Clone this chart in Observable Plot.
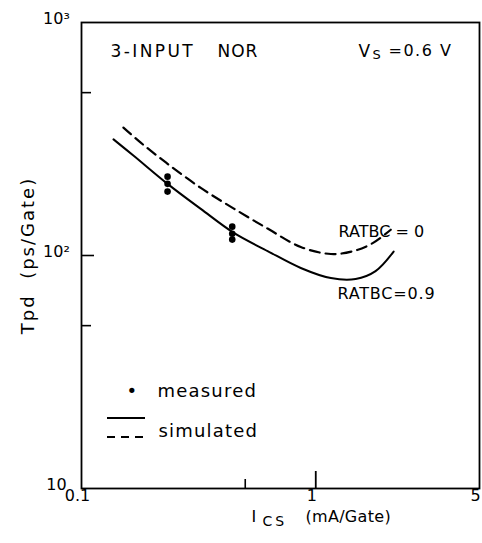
<!DOCTYPE html>
<html><head><meta charset="utf-8">
<script src="https://cdn.jsdelivr.net/npm/d3@7"></script>
<script src="https://cdn.jsdelivr.net/npm/@observablehq/plot@0.6"></script>
<style>body{margin:0;background:#fff} svg{display:block}</style>
</head><body><div id="chart"></div>
<script>
// simulated, RATBC = 0.9 (solid)
const solidX = [0.137, 0.167, 0.233, 0.323, 0.447, 0.623, 0.863, 1.16, 1.48, 1.80, 2.15];
const solidY = [315, 268, 203, 158.5, 125, 104.5, 88.4, 80, 79.3, 85.7, 104];
// simulated, RATBC = 0 (dashed)
const dashX = [0.151, 0.179, 0.233, 0.323, 0.447, 0.623, 0.863, 1.16, 1.45, 1.75, 2.09];
const dashY = [354, 305, 247.5, 195, 159, 130.5, 108.8, 101.5, 104.5, 113, 129];
// measured
const measX = [0.233, 0.233, 0.233, 0.44, 0.44, 0.44];
const measY = [218, 203, 188, 133, 124, 117];
// ticks
const xTickVals = [0.1, 1, 5];
const xTickLabels = ["0.1", "1", "5"];
const yTickVals = [10, 100, 1000];
const yTickLabels = ["10", "10²", "10³"];

const solid = solidX.map((x, i) => ({x, y: solidY[i]}));
const dashed = dashX.map((x, i) => ({x, y: dashY[i]}));
const meas = measX.map((x, i) => ({x, y: measY[i]}));

const F = "DejaVu Sans";
const T = (s, dx, dy, o = {}) => Plot.text([s], {frameAnchor: "top-left", dx, dy, textAnchor: "start", fontSize: 16, ...o});
const plot = Plot.plot({
  width: 482, height: 543,
  marginLeft: 81, marginRight: 3, marginTop: 22, marginBottom: 55,
  style: {fontFamily: F, fontSize: "15px", color: "#000", background: "#fff"},
  x: {type: "log", domain: [0.1, 5], axis: null},
  y: {type: "log", domain: [10, 1000], axis: null},
  marks: [
    Plot.frame({stroke: "#000", strokeWidth: 1.8}),
    Plot.axisX({ticks: [0.5], tickSize: -9, tickFormat: () => "", label: null, strokeWidth: 1.6}),
    Plot.axisX({ticks: [1], tickSize: -17, tickFormat: () => "", label: null, strokeWidth: 1.8}),
    Plot.axisY({ticks: [50, 500], tickSize: -10, tickFormat: () => "", label: null, strokeWidth: 1.6}),
    Plot.axisY({ticks: [100], tickSize: -13, tickFormat: () => "", label: null, strokeWidth: 1.6}),
    Plot.text(xTickVals, {x: d => d, text: (d, i) => xTickLabels[i], frameAnchor: "bottom", dx: -4, dy: 12, fontSize: 16}),
    Plot.text(yTickVals, {y: d => d, text: (d, i) => yTickLabels[i], frameAnchor: "left", textAnchor: "middle", dx: -25, dy: -4, fontSize: 16}),
    Plot.line(solid, {x: "x", y: "y", curve: "catmull-rom", stroke: "#000", strokeWidth: 2}),
    Plot.line(dashed, {x: "x", y: "y", curve: "catmull-rom", stroke: "#000", strokeWidth: 2.2, strokeDasharray: "10,6"}),
    Plot.dot(meas, {x: "x", y: "y", r: 3.3, fill: "#000"}),
    // axis titles
    Plot.text(["Tpd  (ps/Gate)"], {frameAnchor: "left", textAnchor: "middle", dx: -53, rotate: -90, fontSize: 18}),
    Plot.text(["I"], {frameAnchor: "bottom-left", dx: 170, dy: 33, textAnchor: "start", fontSize: 16}),
    Plot.text(["CS"], {frameAnchor: "bottom-left", dx: 181, dy: 37, textAnchor: "start", fontSize: 14}),
    Plot.text(["(mA/Gate)"], {frameAnchor: "bottom-left", dx: 224, dy: 33, textAnchor: "start", fontSize: 16}),
    // annotations
    T("3-INPUT", 29, 22, {fontSize: 17}),
    T("NOR", 136, 22, {fontSize: 17}),
    T("V", 277, 22, {fontSize: 17}),
    T("S", 291, 27, {fontSize: 13}),
    T("=0.6 V", 307, 22, {fontSize: 16}),
    T("RATBC = 0", 257, 203, {fontSize: 16}),
    T("RATBC=0.9", 256, 265, {fontSize: 16}),
    // legend
    T("•", 45, 362, {fontSize: 18}),
    T("measured", 76, 362, {fontSize: 18}),
    T("simulated", 77, 402, {fontSize: 18})
  ]
});
document.getElementById("chart").append(plot);
const svg = d3.select(plot);
// letter spacing of the hand-lettered labels
const spacing = {"Tpd  (ps/Gate)": 2, "CS": 3, "(mA/Gate)": 0.3, "3-INPUT": 2.4, "NOR": 1,
  "=0.6 V": 1.5, "RATBC=0.9": 0.8, "measured": 1.2, "simulated": 1.2};
svg.selectAll("text").each(function () {
  const s = spacing[this.textContent];
  if (s != null) this.setAttribute("letter-spacing", s);
});
svg.append("line").attr("x1", 107).attr("x2", 145).attr("y1", 418).attr("y2", 418)
  .attr("stroke", "#000").attr("stroke-width", 1.8);
svg.append("line").attr("x1", 107).attr("x2", 145).attr("y1", 437).attr("y2", 437)
  .attr("stroke", "#000").attr("stroke-width", 2).attr("stroke-dasharray", "8,6");
</script>
</body></html>
